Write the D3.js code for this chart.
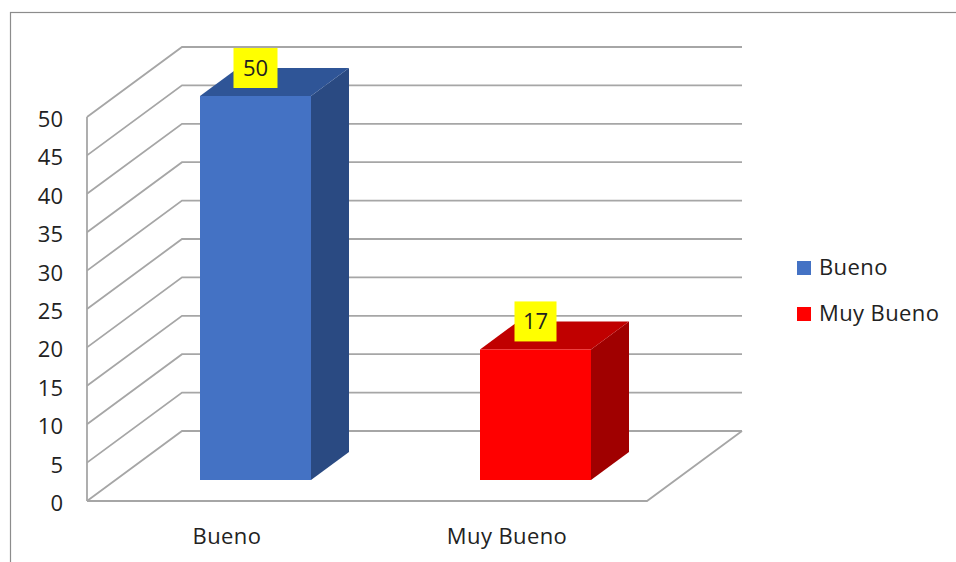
<!DOCTYPE html>
<html>
<head>
<meta charset="utf-8">
<script src="https://cdn.jsdelivr.net/npm/d3@7"></script>
<style>
  body { margin: 0; background: #fff; }
  text { font-family: "Open Sans", "Noto Sans", sans-serif; fill: #222; }
</style>
</head>
<body>
<div id="chart"></div>
<script>
// data
var categories = ["Bueno", "Muy Bueno"];
var values = [50, 17];
var yTicks = [0, 5, 10, 15, 20, 25, 30, 35, 40, 45, 50];
var frontColors = ["#4472C4", "#FF0000"];
var topColors = ["#2F5597", "#C00000"];
var sideColors = ["#2A4A82", "#A00000"];

var svgWidth = 956;
var svgHeight = 562;

var svg = d3.select("#chart")
  .append("svg")
  .attr("width", svgWidth)
  .attr("height", svgHeight);

// outer frame (runs off the right/bottom edge like the reference)
svg.append("rect")
  .attr("x", 10.5)
  .attr("y", 12.5)
  .attr("width", 1000)
  .attr("height", 600)
  .attr("fill", "none")
  .attr("stroke", "#8c8c8c")
  .attr("stroke-width", 1.2);

// 3d geometry: depth offset for the back wall
var depthX = 95, depthY = -70;

var x = d3.scaleBand()
  .domain(categories)
  .range([87, 647]);

var y = d3.scaleLinear()
  .domain([0, 50])
  .range([501, 117]);

function proj(px, v, d) {
  return [px + d * depthX, y(v) + d * depthY];
}

var grid = svg.append("g")
  .attr("stroke", "#a6a6a6")
  .attr("stroke-width", 1.8)
  .attr("fill", "none");

// back wall lines + left wall diagonals
yTicks.forEach(function(t) {
  var a = proj(87, t, 0), b = proj(87, t, 1), c = proj(647, t, 1);
  grid.append("path")
    .attr("d", d3.line()([a, b, c]));
});

// left wall vertical
grid.append("line")
  .attr("x1", 87).attr("x2", 87)
  .attr("y1", y(50)).attr("y2", y(0));

// floor front + right edge
var f0 = proj(87, 0, 0), f1 = proj(647, 0, 0), f2 = proj(647, 0, 1);
grid.append("path")
  .attr("d", d3.line()([f0, f1, f2]));

// bars
var barRatio = 111 / 280;
var d0 = 0.3, d1 = 0.7;

categories.forEach(function(cat, i) {
  var bw = x.bandwidth() * barRatio;
  var xl = x(cat) + (x.bandwidth() - bw) / 2;
  var xr = xl + bw;
  var v = values[i];
  var g = svg.append("g");

  // front face
  var fl = proj(xl, v, d0), fr = proj(xr, v, d0);
  var fbl = proj(xl, 0, d0), fbr = proj(xr, 0, d0);
  var bl = proj(xl, v, d1), br = proj(xr, v, d1);
  var bbr = proj(xr, 0, d1);

  // side face
  g.append("path")
    .attr("d", d3.line()([fr, br, bbr, fbr]) + "Z")
    .attr("fill", sideColors[i]);
  // top face
  g.append("path")
    .attr("d", d3.line()([fl, bl, br, fr]) + "Z")
    .attr("fill", topColors[i]);
  g.append("path")
    .attr("d", d3.line()([fl, fr, fbr, fbl]) + "Z")
    .attr("fill", frontColors[i]);

  // value label box
  var cx = (fl[0] + fr[0]) / 2;
  var boxW = v >= 20 ? 44 : 42, boxH = 40;
  svg.append("rect")
    .attr("x", cx - boxW / 2)
    .attr("y", fl[1] - 8 - boxH)
    .attr("width", boxW)
    .attr("height", boxH)
    .attr("fill", "#FFFF00");
  svg.append("text")
    .attr("x", cx)
    .attr("y", fl[1] - 8 - boxH / 2 + 8)
    .attr("text-anchor", "middle")
    .attr("font-size", "22px")
    .text(v);
});

// y axis labels
svg.append("g")
  .selectAll("text")
  .data(yTicks)
  .enter()
  .append("text")
  .attr("x", 63)
  .attr("y", function(d) { return y(d) + 10; })
  .attr("text-anchor", "end")
  .attr("font-size", "22px")
  .text(function(d) { return d; });

// category labels
svg.append("g")
  .selectAll("text")
  .data(categories)
  .enter()
  .append("text")
  .attr("x", function(d) { return x(d) + x.bandwidth() / 2; })
  .attr("y", 544)
  .attr("text-anchor", "middle")
  .attr("font-size", "22px")
  .attr("letter-spacing", "0.4px")
  .text(function(d) { return d; });

// legend
var legend = svg.append("g")
  .attr("transform", "translate(797, 261)");

categories.forEach(function(cat, i) {
  legend.append("rect")
    .attr("x", 0)
    .attr("y", i * 46)
    .attr("width", 14)
    .attr("height", 14)
    .attr("fill", frontColors[i]);
  legend.append("text")
    .attr("x", 22)
    .attr("y", i * 46 + 14)
    .attr("font-size", "22px")
    .attr("letter-spacing", "0.4px")
    .text(cat);
});
</script>
</body>
</html>
